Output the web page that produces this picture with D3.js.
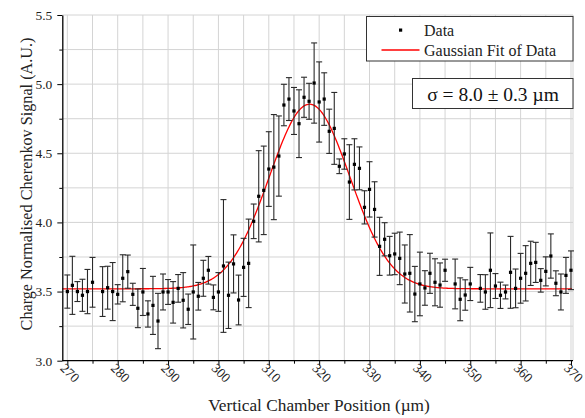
<!DOCTYPE html>
<html>
<head>
<meta charset="utf-8">
<script src="https://cdn.jsdelivr.net/npm/d3@7"></script>
<style>
  html, body { margin: 0; padding: 0; background: #fff; }
  svg { display: block; font-family: "Liberation Serif", "Times New Roman", serif; }
  svg text { font-family: "Liberation Serif", "Times New Roman", serif; }
</style>
</head>
<body>
<svg id="chart" width="585" height="418"></svg>
<script>
// ---- data ----
const positions = [270,271,272,273,274,275,277,278,279,280,281,282,283,284,285,286,287,288,289,290,
  291,292,293,294,295,296,297,298,299,300,301,302,303,304,305,306,307,308,309,310,
  311,312,313,314,315,316,317,318,319,320,321,322,323,324,325,326,327,328,329,330,
  331,332,333,334,335,336,337,338,339,340,341,342,343,344,345,347,348,349,350,352,
  353,354,355,356,357,358,359,360,361,362,363,364,365,366,367,368,369,370];
const signal = [3.50,3.545,3.50,3.473,3.50,3.567,3.50,3.528,3.50,3.48,3.596,3.644,3.48,3.379,3.497,3.338,3.40,3.287,3.497,3.497,
  3.422,3.523,3.437,3.372,3.497,3.466,3.596,3.654,3.458,3.497,3.685,3.473,3.70,3.439,3.675,3.704,4.008,4.189,4.232,4.386,
  4.40,4.48,4.849,4.892,4.806,4.714,4.905,4.876,5.008,4.871,4.892,4.659,4.68,4.406,4.495,4.292,4.42,4.391,4.109,4.239,
  4.094,3.827,3.878,3.759,3.772,3.74,3.627,3.632,3.482,3.555,3.526,3.632,3.567,3.547,3.654,3.555,3.444,3.475,3.555,3.523,
  3.497,3.654,3.54,3.473,3.497,3.639,3.523,3.596,3.632,3.704,3.711,3.581,3.646,3.757,3.56,3.497,3.617,3.654];
const errors = [0.12,0.21,0.072,0.116,0.16,0.18,0.18,0.155,0.21,0.07,0.17,0.12,0.08,0.14,0.17,0.095,0.21,0.2,0.13,0.09,
  0.15,0.1,0.2,0.11,0.34,0.1,0.13,0.1,0.09,0.14,0.48,0.24,0.21,0.18,0.21,0.32,0.125,0.33,0.32,0.27,
  0.38,0.29,0.15,0.155,0.17,0.245,0.145,0.13,0.29,0.29,0.19,0.16,0.26,0.053,0.11,0.27,0.185,0.155,0.12,0.2,
  0.2,0.21,0.12,0.14,0.15,0.19,0.21,0.28,0.2,0.23,0.125,0.145,0.17,0.16,0.08,0.18,0.155,0.11,0.12,0.1,
  0.125,0.27,0.09,0.095,0.05,0.26,0.14,0.18,0.2,0.16,0.145,0.085,0.105,0.16,0.09,0.13,0.13,0.14];

// Gaussian fit parameters (sigma from the annotation, others)
const fitOffset = 3.52;
const fitAmplitude = 1.335;
const fitCenter = 318.1;
const fitSigma = 8.0;

const xTickValues = [270,280,290,300,310,320,330,340,350,360,370];
const xMinorTicks = [275,285,295,305,315,325,335,345,355,365];
const yTickValues = [3.0,3.5,4.0,4.5,5.0,5.5];
const yMinorTicks = [3.25,3.75,4.25,4.75,5.25];
const xGridValues = [270,275,280,285,290,295,300,305,310,315,320,325,330,335,340,345,350,355,360,365,370];
const yGridValues = [3.25,3.5,3.75,4.0,4.25,4.5,4.75,5.0,5.25,5.5];

const xTitle = "Vertical Chamber Position (\u00b5m)";
const yTitle = "Charge Normalised Cherenkov Signal (A.U.)";
const legendLabels = ["Data", "Gaussian Fit of Data"];
const sigmaLabel = "\u03c3 = 8.0 \u00b1 0.3 \u00b5m";

// ---- layout ----
const L = 62.3, R = 573, T = 15, B = 360.7;
const svg = d3.select("#chart");
const x = d3.scaleLinear().domain([269, 370.4]).range([L, R]);
const y = d3.scaleLinear().domain([3.0, 5.5]).range([B, T]);

// grid
const grid = svg.append("g").attr("stroke", "#d4d4d4").attr("stroke-width", 1);
grid.selectAll(".gx").data(xGridValues).join("line")
  .attr("x1", d => x(d)).attr("x2", d => x(d)).attr("y1", T).attr("y2", B);
grid.append("line").attr("x1", R).attr("x2", R).attr("y1", T).attr("y2", B);
grid.selectAll(".gy").data(yGridValues).join("line")
  .attr("x1", L).attr("x2", R).attr("y1", d => y(d)).attr("y2", d => y(d));

// fit curve
const fitX = d3.range(269, 370.4, 0.2);
const gauss = v => fitOffset + fitAmplitude * Math.exp(-((v - fitCenter) ** 2) / (2 * fitSigma * fitSigma));
svg.append("path")
  .datum(fitX)
  .attr("fill", "none").attr("stroke", "#ff0000").attr("stroke-width", 1.3)
  .attr("d", d3.line().x(d => x(d)).y(d => y(gauss(d))));

// error bars
const data = positions.map((p, i) => ({ p, v: signal[i], e: errors[i] }));
const eb = svg.append("g").attr("stroke", "#2a2a2a").attr("stroke-width", 1.1);
eb.selectAll(".stem").data(data).join("line")
  .attr("x1", d => x(d.p)).attr("x2", d => x(d.p))
  .attr("y1", d => y(d.v + d.e)).attr("y2", d => y(d.v - d.e));
eb.selectAll(".capt").data(data).join("line")
  .attr("x1", d => x(d.p) - 3).attr("x2", d => x(d.p) + 3)
  .attr("y1", d => y(d.v + d.e)).attr("y2", d => y(d.v + d.e));
eb.selectAll(".capb").data(data).join("line")
  .attr("x1", d => x(d.p) - 3).attr("x2", d => x(d.p) + 3)
  .attr("y1", d => y(d.v - d.e)).attr("y2", d => y(d.v - d.e));

// points
svg.append("g").selectAll("rect").data(data).join("rect")
  .attr("x", d => x(d.p) - 1.6).attr("y", d => y(d.v) - 1.6)
  .attr("width", 3.2).attr("height", 3.2).attr("fill", "#000");

// axes
const xAxis = svg.append("g").attr("transform", `translate(0,${B})`)
  .call(d3.axisBottom(x).tickValues(xTickValues).tickSize(5).tickSizeOuter(0).tickFormat(d3.format("d")));
svg.append("g").attr("transform", `translate(0,${B})`)
  .call(d3.axisBottom(x).tickValues(xMinorTicks).tickSize(3).tickSizeOuter(0).tickFormat(""))
  .call(g => g.select(".domain").remove());
xAxis.attr("font-family", "Liberation Serif");
xAxis.select(".domain").attr("stroke", "#000").attr("stroke-width", 1.3).attr("d", `M${L},0H${R}`);
xAxis.selectAll(".tick text")
  .attr("font-family", "Liberation Serif").attr("font-size", 13.5).attr("fill", "#222")
  .attr("text-anchor", "start").attr("dy", null)
  .attr("transform", "translate(-4,4) rotate(45)")
  .attr("y", 6).attr("x", 0);

const yAxis = svg.append("g").attr("transform", `translate(${L},0)`)
  .call(d3.axisLeft(y).tickValues(yTickValues).tickSize(5).tickSizeOuter(0).tickFormat(d3.format(".1f")));
svg.append("g").attr("transform", `translate(${L},0)`)
  .call(d3.axisLeft(y).tickValues(yMinorTicks).tickSize(3).tickSizeOuter(0).tickFormat(""))
  .call(g => g.select(".domain").remove());
yAxis.attr("font-family", "Liberation Serif");
yAxis.select(".domain").attr("stroke", "#000").attr("stroke-width", 1.3);
yAxis.selectAll(".tick text")
  .attr("font-family", "Liberation Serif").attr("font-size", 13.5).attr("fill", "#222").attr("x", -10);

// titles
svg.append("text").attr("x", 319).attr("y", 411).attr("text-anchor", "middle")
  .attr("font-size", 17.3).attr("fill", "#222").text(xTitle);
svg.append("text").attr("transform", "translate(32,184) rotate(-90)").attr("text-anchor", "middle")
  .attr("font-size", 16.2).attr("fill", "#222").text(yTitle);

// legend
const lg = svg.append("g");
lg.append("rect").attr("x", 366.5).attr("y", 16.5).attr("width", 206.5).attr("height", 44.5)
  .attr("fill", "#fff").attr("stroke", "#333").attr("stroke-width", 1);
lg.append("rect").attr("x", 399).attr("y", 28.5).attr("width", 3.2).attr("height", 3.2).attr("fill", "#000");
lg.append("text").attr("x", 424).attr("y", 35.5).attr("font-size", 16).attr("fill", "#222").text(legendLabels[0]);
lg.append("line").attr("x1", 381.5).attr("x2", 419.5).attr("y1", 50).attr("y2", 50)
  .attr("stroke", "#ff0000").attr("stroke-width", 1.3);
lg.append("text").attr("x", 424).attr("y", 55.5).attr("font-size", 16).attr("fill", "#222").text(legendLabels[1]);

// sigma annotation
svg.append("rect").attr("x", 412.5).attr("y", 78.5).attr("width", 160.5).attr("height", 30)
  .attr("fill", "#fff").attr("stroke", "#333").attr("stroke-width", 1);
svg.append("text").attr("x", 493).attr("y", 101).attr("text-anchor", "middle")
  .attr("font-size", 19.5).attr("fill", "#111").text(sigmaLabel);
</script>
</body>
</html>
